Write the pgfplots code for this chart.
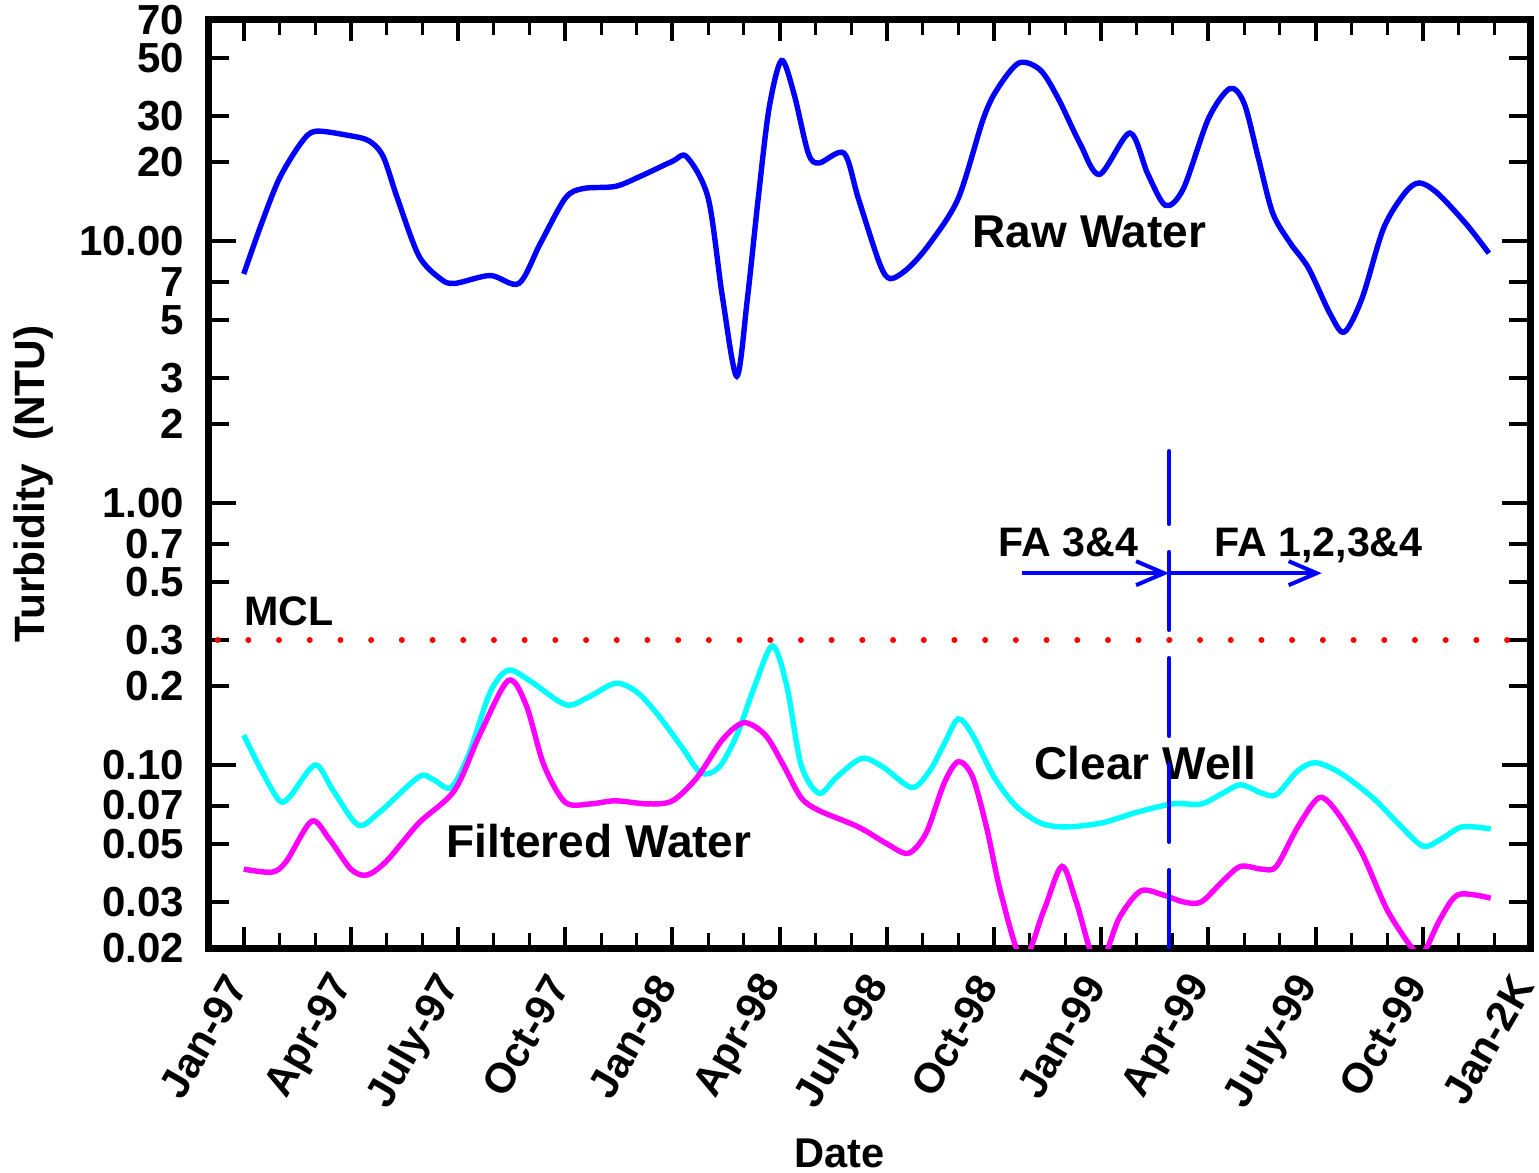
\documentclass[border=0pt]{standalone}
\usepackage{fontspec}
\setmainfont{Liberation Sans}
\usepackage{pgfplots}
\pgfplotsset{compat=1.18}
\usetikzlibrary{arrows.meta}
\definecolor{rw}{RGB}{0,0,255}
\definecolor{cw}{RGB}{0,255,255}
\definecolor{fw}{RGB}{255,0,255}
\definecolor{mcl}{RGB}{255,0,0}

\pgfplotstableread{
x y
0 7.5
0.5 11.7
1.0 17.4
1.6 23.7
2.0 26.3
2.9 25.4
3.5 24.2
3.9 21.1
4.3 14.6
4.9 8.8
5.5 7.2
5.9 6.9
6.9 7.4
7.7 6.9
8.3 9.8
9.0 14.6
9.5 15.9
10.4 16.2
11.1 17.7
12.0 20.2
12.4 21.0
13.0 14.6
13.4 6.1
13.8 3.05
14.1 6.1
14.4 14.6
14.7 32
15.05 49
15.4 36.6
15.8 21.7
16.1 19.9
16.8 21.7
17.2 14.6
17.8 8.2
18.1 7.2
18.6 7.9
19.2 9.8
20.0 14.6
20.7 29.4
21.1 38.3
21.7 48
22.3 45
22.8 35
23.4 23.7
23.95 18.0
24.8 25.9
25.3 18.1
25.8 13.7
26.3 15.9
27.0 29.4
27.6 38.3
28.0 33.6
28.4 20.7
28.8 12.8
29.3 9.8
29.8 7.9
30.4 5.3
30.8 4.5
31.3 6.06
31.9 11.2
32.5 15.3
32.9 16.7
33.4 15.3
34.2 11.7
34.85 9.0
}\rawtab

\pgfplotstableread{
x y
0 0.13
0.5 0.095
1.0 0.073
1.3 0.076
2.0 0.100
2.5 0.080
3.2 0.059
3.8 0.066
4.9 0.090
5.3 0.088
5.8 0.082
6.3 0.110
6.9 0.190
7.4 0.230
8.0 0.210
9.0 0.170
9.6 0.180
10.4 0.205
11.0 0.190
11.6 0.155
12.3 0.115
12.8 0.093
13.3 0.098
13.8 0.130
14.3 0.200
14.8 0.285
15.2 0.200
15.6 0.100
16.1 0.078
16.6 0.090
17.3 0.106
17.9 0.098
18.7 0.082
19.2 0.095
19.6 0.120
20.0 0.150
20.4 0.130
21.0 0.090
21.6 0.070
22.3 0.060
23.0 0.058
24.0 0.060
25.0 0.066
26.0 0.071
26.8 0.071
27.4 0.078
27.9 0.084
28.5 0.078
28.9 0.077
29.5 0.095
30.0 0.102
30.7 0.093
31.6 0.075
32.3 0.060
33.0 0.049
33.5 0.052
34.1 0.058
34.9 0.057
}\cwtab

\pgfplotstableread{
x y
0 0.040
0.8 0.039
1.2 0.043
1.9 0.061
2.4 0.052
3.0 0.040
3.45 0.038
4.0 0.043
4.9 0.060
5.9 0.080
6.6 0.130
7.4 0.210
7.9 0.170
8.4 0.100
9.0 0.072
9.7 0.071
10.4 0.073
11.3 0.071
12.0 0.073
12.7 0.090
13.4 0.125
14.0 0.145
14.6 0.130
15.1 0.100
15.6 0.075
16.1 0.067
17.2 0.058
18.0 0.050
18.6 0.046
19.1 0.055
19.6 0.085
20.0 0.103
20.4 0.090
20.8 0.057
21.2 0.032
21.8 0.018
22.4 0.028
22.9 0.041
23.3 0.030
23.9 0.017
24.5 0.026
25.1 0.033
25.7 0.032
26.3 0.030
26.8 0.030
27.4 0.036
27.9 0.041
28.5 0.040
28.9 0.041
29.5 0.058
30.1 0.075
30.6 0.066
31.3 0.046
32.0 0.028
32.7 0.020
33.0 0.019
33.5 0.026
34.0 0.032
34.9 0.031
}\fwtab

\begin{document}
\begin{tikzpicture}
\begin{axis}[
  scale only axis,
  width=330.5pt, height=232pt,
  xmin=-1, xmax=36,
  ymin=0.02, ymax=70,
  ymode=log,
  axis line style={line width=1.75pt},
  xtick={0,3,...,36},
  xticklabels={Jan-97,Apr-97,July-97,Oct-97,Jan-98,Apr-98,July-98,Oct-98,Jan-99,Apr-99,July-99,Oct-99,Jan-2K},
  minor x tick num=2,
  ytick={0.02,0.03,0.05,0.07,0.2,0.3,0.5,0.7,2,3,5,7,20,30,50,70},
  yticklabels={0.02,0.03,0.05,0.07,0.2,0.3,0.5,0.7,2,3,5,7,20,30,50,70},
  yminorticks=false,
  extra y ticks={0.1,1,10},
  extra y tick labels={0.10,1.00,10.00},
  extra y tick style={major tick length=7pt},
  major tick length=5.25pt, minor tick length=3.75pt,
  major tick style={line width=1pt,black},
  minor tick style={line width=0.75pt,black},
  tick align=inside,
  every tick label/.append style={font=\fontsize{10.5}{12}\selectfont\bfseries},
  xticklabel style={rotate=60, anchor=east},
  xticklabel shift=4.8pt,
  yticklabel shift=2.4pt,
]
\coordinate (SW) at (rel axis cs:0,0);
\coordinate (YL) at (rel axis cs:0,0.5);
\coordinate (XL) at (rel axis cs:0.478,0);

\node[anchor=base, inner sep=0pt, font=\fontsize{11.5}{13}\selectfont\bfseries] at (axis cs:23.67,9.49) {Raw Water};
\node[anchor=base, inner sep=0pt, font=\fontsize{11.5}{13}\selectfont\bfseries] at (axis cs:9.94,0.0442) {Filtered Water};
\node[anchor=base, inner sep=0pt, font=\fontsize{11.5}{13}\selectfont\bfseries] at (axis cs:25.24,0.0877) {Clear Well};
\node[anchor=base west, inner sep=0pt, font=\fontsize{10.3}{12}\selectfont\bfseries] at (axis cs:0,0.342) {MCL};
\node[anchor=base, inner sep=0pt, font=\fontsize{10.3}{12}\selectfont\bfseries] at (axis cs:23.08,0.628) {FA 3\&4};
\node[anchor=base, inner sep=0pt, font=\fontsize{10.3}{12}\selectfont\bfseries] at (axis cs:30.08,0.628) {FA 1,2,3\&4};

\addplot[mcl, line width=1.5pt, line cap=round, dash pattern=on 0pt off 7.675pt] coordinates {(-0.73,0.3) (36,0.3)};

\addplot[rw, line width=1.35pt, smooth] table[x=x,y=y] {\rawtab};
\addplot[cw, line width=1.35pt, smooth] table[x=x,y=y] {\cwtab};
\addplot[fw, line width=1.35pt, smooth] table[x=x,y=y] {\fwtab};

\draw[rw, line width=1pt, -{Straight Barb[length=7pt,width=6pt]}] (axis cs:21.78,0.54) -- (axis cs:25.9,0.54);
\draw[rw, line width=1pt, -{Straight Barb[length=7pt,width=6pt]}] (axis cs:25.9,0.54) -- (axis cs:30.17,0.54);
\draw[rw, line width=1pt, line cap=round, dash pattern=on 19.5pt off 7pt] (axis cs:25.9,0.02) -- (axis cs:25.9,1.58);
\end{axis}
\node[rotate=90, inner sep=0pt, font=\fontsize{10.6}{12}\selectfont\bfseries] at ([xshift=-43.5pt]YL) {Turbidity\ \ (NTU)};
\node[inner sep=0pt, font=\fontsize{10.4}{12}\selectfont\bfseries] at ([yshift=-51.25pt]XL) {Date};
\pgfresetboundingbox
\path (SW) ++(-52pt,-56.25pt) rectangle ++(384.75pt,293.25pt);
\end{tikzpicture}
\end{document}
